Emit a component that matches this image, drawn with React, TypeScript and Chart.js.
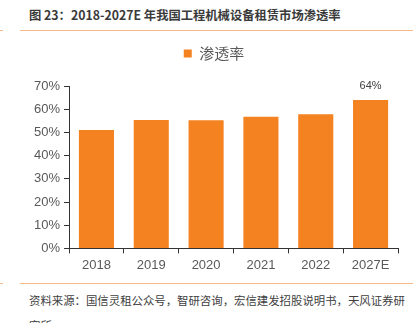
import React, { useEffect, useRef } from "react";
import { Chart, registerables } from "chart.js";

Chart.register(...registerables);

const categories = ["2018", "2019", "2020", "2021", "2022", "2027E"];
const penetration = [51.0, 55.3, 55.2, 56.7, 57.8, 64.0];
const labelledIndex = 5;
const labelText = "64%";
const seriesName = "渗透率";
const titleText = "图 23：2018-2027E 年我国工程机械设备租赁市场渗透率";
const sourceLine1 = "资料来源：国信灵租公众号，智研咨询，宏信建发招股说明书，天风证券研";
const sourceLine2 = "究所";

const ORANGE = "#F58220";
const LINE_ORANGE = "#F6B98A";

const valueLabelPlugin = {
  id: "valueLabel",
  afterDatasetsDraw(chart: any) {
    const meta = chart.getDatasetMeta(0);
    const el = meta.data[labelledIndex];
    if (!el) return;
    const ctx = chart.ctx;
    ctx.save();
    ctx.font = "11px 'Liberation Sans', Arial, sans-serif";
    ctx.fillStyle = "#404040";
    ctx.textAlign = "center";
    ctx.textBaseline = "bottom";
    ctx.fillText(labelText, el.x, el.y - 8);
    ctx.restore();
  },
};

const legendSpacingPlugin = {
  id: "legendSpacing",
  beforeInit(chart: any) {
    const legend = chart.legend;
    if (!legend) return;
    const origFit = legend.fit;
    legend.fit = function () {
      origFit.bind(legend)();
      this.height += 15;
    };
  },
};

export default function App() {
  const canvasRef = useRef<HTMLCanvasElement | null>(null);

  useEffect(() => {
    if (!canvasRef.current) return;
    const chart = new Chart(canvasRef.current, {
      type: "bar",
      data: {
        labels: categories,
        datasets: [
          {
            label: seriesName,
            data: penetration,
            backgroundColor: ORANGE,
            borderWidth: 0,
            categoryPercentage: 0.64,
            barPercentage: 1,
          },
        ],
      },
      options: {
        responsive: false,
        animation: false,
        maintainAspectRatio: false,
        layout: { padding: { left: 30, right: 17, top: 0, bottom: 0 } },
        plugins: {
          legend: {
            display: true,
            position: "top",
            labels: {
              boxWidth: 8,
              boxHeight: 8,
              color: "#595959",
              font: { size: 15, family: "'Noto Sans CJK SC', sans-serif" },
              padding: 6,
            },
          },
          tooltip: { enabled: false },
        },
        scales: {
          x: {
            offset: true,
            grid: {
              offset: true,
              drawOnChartArea: false,
              drawTicks: true,
              tickLength: 5,
              color: "#333333",
            },
            border: { color: "#333333", width: 1 },
            ticks: {
              color: "#595959",
              font: { size: 13, family: "'Liberation Sans', Arial, sans-serif" },
              padding: 4,
            },
          },
          y: {
            min: 0,
            max: 70,
            grid: {
              drawOnChartArea: false,
              drawTicks: true,
              tickLength: 5,
              color: "#333333",
            },
            border: { color: "#333333", width: 1 },
            ticks: {
              stepSize: 10,
              color: "#595959",
              font: { size: 13, family: "'Liberation Sans', Arial, sans-serif" },
              padding: 4,
              callback: (v: any) => v + "%",
            },
          },
        },
      },
      plugins: [valueLabelPlugin, legendSpacingPlugin],
    });
    return () => chart.destroy();
  }, []);

  return (
    <div
      style={{
        position: "fixed",
        left: 0,
        top: 0,
        width: 415,
        height: 323,
        background: "#ffffff",
        overflow: "hidden",
      }}
    >
      <div
        style={{
          position: "absolute",
          left: 29,
          top: 6,
          fontFamily: "'Noto Sans CJK SC', sans-serif",
          fontWeight: 700,
          fontSize: 12.3,
          color: "#3a3a3a",
          whiteSpace: "nowrap",
          lineHeight: "18px",
        }}
      >
        {titleText}
      </div>
      <div style={{ position: "absolute", left: 20, top: 30, width: 393, height: 1, background: LINE_ORANGE }} />
      <div style={{ position: "absolute", left: 0, top: 30, width: 3, height: 1, background: LINE_ORANGE }} />
      <canvas
        ref={canvasRef}
        width={415}
        height={237}
        style={{ position: "absolute", left: 0, top: 40, width: 415, height: 237 }}
      />
      <div style={{ position: "absolute", left: 20, top: 283, width: 393, height: 1, background: LINE_ORANGE }} />
      <div style={{ position: "absolute", left: 0, top: 283, width: 3, height: 1, background: LINE_ORANGE }} />
      <div
        style={{
          position: "absolute",
          left: 29,
          top: 288,
          fontFamily: "'Noto Sans CJK SC', sans-serif",
          fontSize: 11.4,
          color: "#404040",
          whiteSpace: "nowrap",
          lineHeight: "25px",
        }}
      >
        {sourceLine1}
        <br />
        {sourceLine2}
      </div>
    </div>
  );
}
